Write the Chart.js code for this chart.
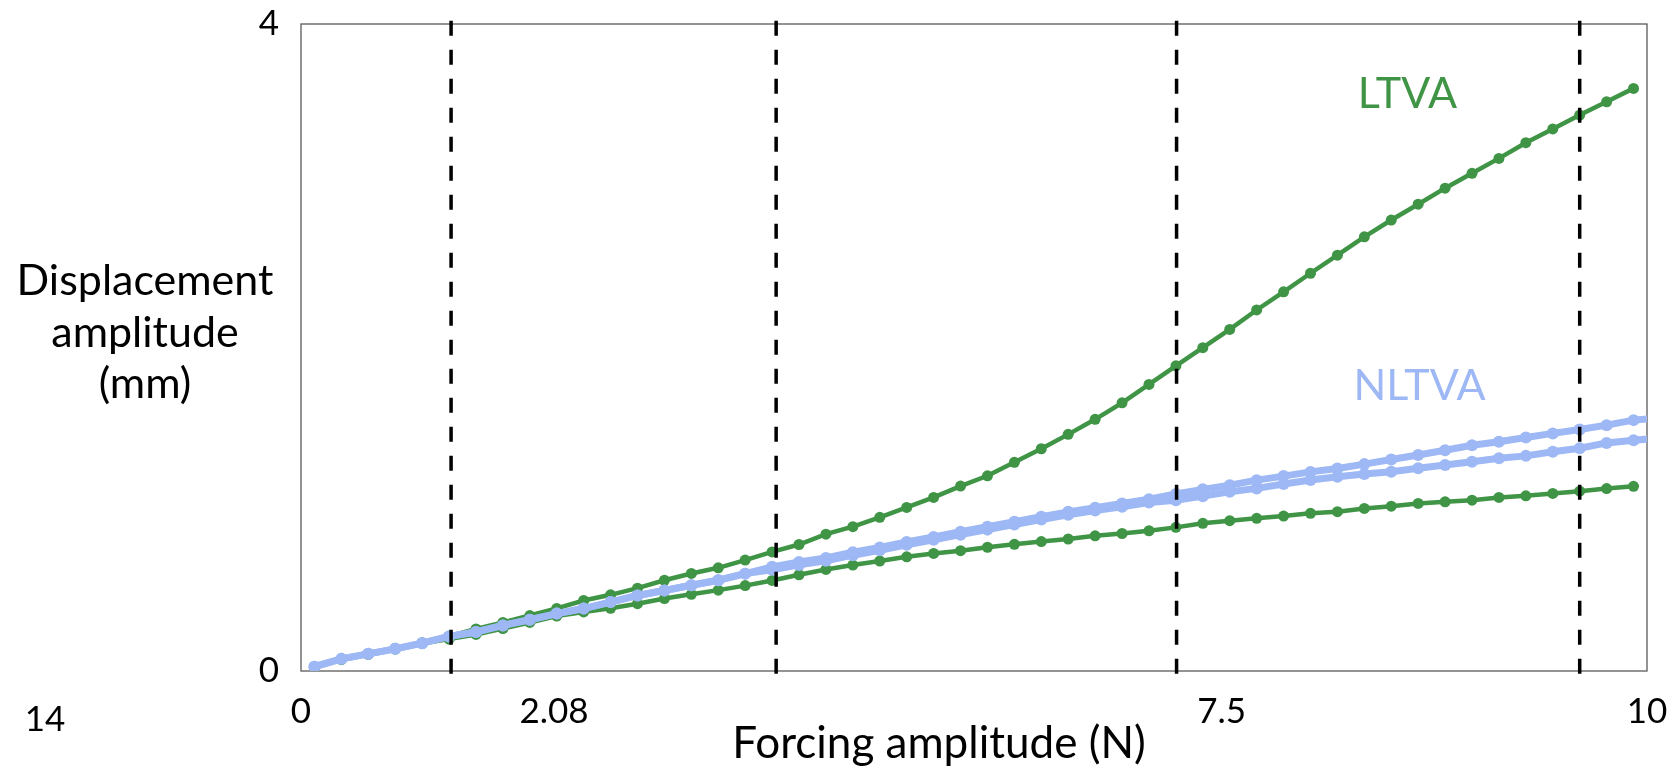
<!DOCTYPE html>
<html>
<head>
<meta charset="utf-8">
<script src="https://cdn.jsdelivr.net/npm/chart.js@4.4.1/dist/chart.umd.min.js"></script>
<style>
  html, body { margin: 0; padding: 0; background: #fff; }
  #wrap { width: 1680px; height: 769px; position: relative; }
</style>
</head>
<body>
<div id="wrap"><canvas id="myChart"></canvas></div>
<script>
//forcing amplitude steps (N), last one only used by NLTVA
const forceSteps = [
  0.1, 0.3, 0.5, 0.7, 0.9, 1.1, 1.3, 1.5, 1.7, 1.9,
  2.1, 2.3, 2.5, 2.7, 2.9, 3.1, 3.3, 3.5, 3.7, 3.9,
  4.1, 4.3, 4.5, 4.7, 4.9, 5.1, 5.3, 5.5, 5.7, 5.9,
  6.1, 6.3, 6.5, 6.7, 6.9, 7.1, 7.3, 7.5, 7.7, 7.9,
  8.1, 8.3, 8.5, 8.7, 8.9, 9.1, 9.3, 9.5, 9.7, 9.9,
  10.1,
];

//LTVA displacement (mm), upper and lower branch
const ltvaUpper = [
  0.025, 0.075, 0.105, 0.14, 0.175, 0.215, 0.26, 0.3, 0.343, 0.387,
  0.436, 0.471, 0.512, 0.561, 0.603, 0.638, 0.686, 0.736, 0.782, 0.846,
  0.892, 0.95, 1.011, 1.073, 1.143, 1.207, 1.29, 1.374, 1.463, 1.556,
  1.658, 1.772, 1.887, 1.999, 2.112, 2.232, 2.344, 2.459, 2.571, 2.684,
  2.788, 2.886, 2.985, 3.077, 3.169, 3.266, 3.351, 3.437, 3.519, 3.602,
];
const ltvaLower = [
  0.025, 0.07, 0.103, 0.135, 0.17, 0.197, 0.226, 0.262, 0.3, 0.34,
  0.365, 0.388, 0.416, 0.448, 0.474, 0.5, 0.528, 0.56, 0.595, 0.628,
  0.655, 0.68, 0.706, 0.727, 0.744, 0.765, 0.783, 0.8, 0.816, 0.836,
  0.85, 0.867, 0.888, 0.913, 0.929, 0.944, 0.958, 0.975, 0.985, 1.005,
  1.019, 1.036, 1.046, 1.056, 1.073, 1.083, 1.098, 1.112, 1.128, 1.142,
];

//NLTVA displacement (mm), upper and lower branch
const nltvaUpper = [
  0.027, 0.075, 0.106, 0.137, 0.172, 0.214, 0.241, 0.282, 0.317, 0.355,
  0.386, 0.426, 0.467, 0.498, 0.53, 0.561, 0.602, 0.644, 0.674, 0.699,
  0.734, 0.764, 0.798, 0.829, 0.861, 0.892, 0.923, 0.954, 0.984, 1.01,
  1.036, 1.062, 1.094, 1.123, 1.149, 1.18, 1.205, 1.231, 1.252, 1.279,
  1.308, 1.335, 1.365, 1.396, 1.417, 1.444, 1.469, 1.493, 1.52, 1.551,
  1.565,
];
const nltvaLower = [
  0.027, 0.075, 0.106, 0.137, 0.172, 0.214, 0.241, 0.282, 0.317, 0.355,
  0.386, 0.426, 0.467, 0.498, 0.53, 0.561, 0.602, 0.626, 0.656, 0.681,
  0.716, 0.746, 0.78, 0.811, 0.843, 0.874, 0.905, 0.936, 0.966, 0.992,
  1.016, 1.042, 1.056, 1.081, 1.108, 1.129, 1.156, 1.181, 1.201, 1.218,
  1.232, 1.253, 1.274, 1.294, 1.315, 1.33, 1.356, 1.377, 1.41, 1.427,
  1.44,
];

//vertical dashed markers (N)
const markerLines = [1.115, 3.53, 6.505, 9.5];

//tick labels (they sit where the figure put them, not at their own value)
const xTickValues = [0, 1.88, 6.84, 10];
const xTickLabels = ["0", "2.08", "7.5", "10"];
const yTickValues = [0, 4];

const green = "#3f9545";
const blue = "#9db8f5";

function toPoints(ys) {
  return ys.map((y, i) => ({ x: forceSteps[i], y: y }));
}

let datasets = [];

for (let m of markerLines) {
  datasets.push({
    data: [{ x: m, y: 4.02 }, { x: m, y: -0.02 }],
    borderColor: "#000",
    borderWidth: 3.5,
    borderDash: [15, 14],
    pointRadius: 0,
    clip: false,
    order: 0,
  });
}

for (let ys of [nltvaUpper, nltvaLower]) {
  datasets.push({
    data: toPoints(ys),
    borderColor: blue,
    backgroundColor: blue,
    borderWidth: 7,
    pointRadius: 6,
    pointBorderWidth: 0,
    order: 1,
  });
}

for (let ys of [ltvaUpper, ltvaLower]) {
  datasets.push({
    data: toPoints(ys),
    borderColor: green,
    backgroundColor: green,
    borderWidth: 4.5,
    pointRadius: 5.5,
    pointBorderWidth: 0,
    order: 2,
  });
}

//texts that are not part of the axes
const textPlugin = {
  id: "textPlugin",
  beforeDatasetsDraw(chart) {
    const ctx = chart.ctx;
    const a = chart.chartArea;
    ctx.save();
    ctx.strokeStyle = "#5a5a5a";
    ctx.lineWidth = 1.3;
    ctx.strokeRect(a.left, a.top, a.right - a.left, a.bottom - a.top);
    ctx.restore();
  },
  afterDraw(chart) {
    const ctx = chart.ctx;
    const a = chart.chartArea;
    const xs = chart.scales.x;
    const ys = chart.scales.y;
    ctx.save();
    ctx.fillStyle = "#000";
    ctx.textAlign = "center";
    ctx.textBaseline = "alphabetic";

    // y title, horizontal in 3 lines
    ctx.font = "43px Lato";
    let yLines = ["Displacement", "amplitude", "(mm)"];
    yLines.forEach((t, i) => {
      ctx.fillText(t, a.left - 156, a.top + 271 + i * 51.5);
    });

    // x title
    ctx.font = "44px Lato";
    ctx.fillText("Forcing amplitude (N)", (a.left + a.right) / 2 - 35, a.bottom + 87);

    // stray page number
    ctx.font = "35px Lato";
    ctx.textBaseline = "middle";
    ctx.fillText("14", 45, 720);

    // series names
    ctx.font = "43px Lato";
    ctx.fillStyle = green;
    ctx.fillText("LTVA", xs.getPixelForValue(8.22), ys.getPixelForValue(3.567));
    ctx.fillStyle = blue;
    ctx.fillText("NLTVA", xs.getPixelForValue(8.31), ys.getPixelForValue(1.762));
    ctx.restore();
  },
};

Chart.defaults.font.family = "Lato";
Chart.defaults.color = "#000";

const ctx = document.getElementById("myChart");

new Chart(ctx, {
  type: "line",
  data: { datasets: datasets },
  options: {
    responsive: true,
    maintainAspectRatio: false,
    animation: false,
    layout: { padding: { top: 24, right: 33, left: 0, bottom: 0 } },
    plugins: {
      legend: { display: false },
      tooltip: { enabled: false },
    },
    elements: { line: { tension: 0 } },
    scales: {
      x: {
        type: "linear",
        min: 0,
        max: 10,
        grid: { display: false, drawTicks: false },
        border: { display: false },
        afterBuildTicks: (scale) => {
          scale.ticks = xTickValues.map((v) => ({ value: v }));
        },
        afterFit: (scale) => {
          scale.height = 98;
          scale.paddingLeft = 0;
          scale.paddingRight = 0;
        },
        ticks: {
          font: { size: 35 },
          padding: 20,
          maxRotation: 0,
          autoSkip: false,
          callback: (v, i) => xTickLabels[i],
        },
      },
      y: {
        type: "linear",
        min: 0,
        max: 4,
        grid: { display: false, drawTicks: false },
        border: { display: false },
        afterBuildTicks: (scale) => {
          scale.ticks = yTickValues.map((v) => ({ value: v }));
        },
        afterFit: (scale) => {
          scale.width = 301;
          scale.paddingTop = 0;
          scale.paddingBottom = 0;
        },
        ticks: {
          font: { size: 35 },
          padding: 22,
          callback: (v) => String(v),
        },
      },
    },
  },
  plugins: [textPlugin],
});
</script>
</body>
</html>
